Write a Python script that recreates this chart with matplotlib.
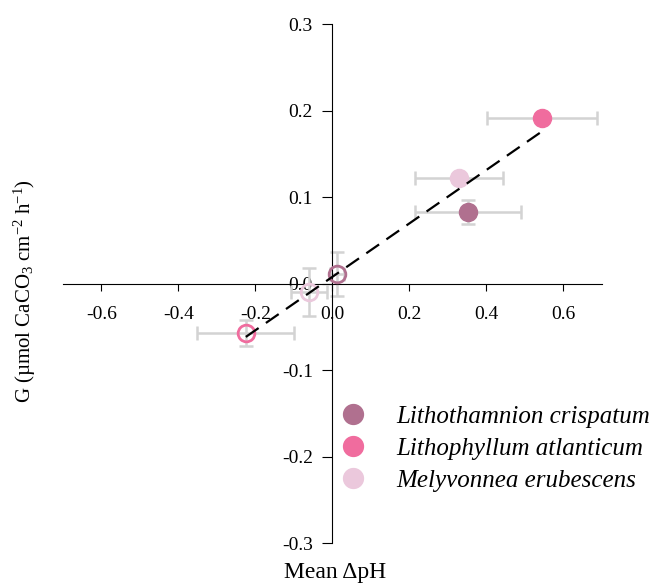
import numpy as np
import matplotlib
matplotlib.use("Agg")
import matplotlib.pyplot as plt

plt.rcParams['font.family'] = ['Liberation Serif', 'DejaVu Serif']
plt.rcParams['mathtext.fontset'] = 'custom'
plt.rcParams['mathtext.rm'] = 'Liberation Serif'
plt.rcParams['mathtext.it'] = 'Liberation Serif:italic'

# species and colours
species = ["Lithothamnion crispatum", "Lithophyllum atlanticum", "Melyvonnea erubescens"]
colors = ["#B0708F", "#F06C9E", "#EBC8DC"]

# filled points (one per species)
filled_x = [0.352, 0.544, 0.329]
filled_y = [0.083, 0.192, 0.122]
filled_xerr = [0.138, 0.143, 0.114]
filled_yerr = [0.014, 0.005, 0.005]

# open points (one per species)
open_x = [0.012, -0.225, -0.06]
open_y = [0.011, -0.057, -0.010]
open_xerr = [0.018, 0.126, 0.047]
open_yerr = [0.025, 0.015, 0.028]

xticks = [-0.6, -0.4, -0.2, 0.0, 0.2, 0.4, 0.6]
yticks = [-0.3, -0.2, -0.1, 0.0, 0.1, 0.2, 0.3]

fig = plt.figure(figsize=(6.54, 5.83), dpi=100)
ax = fig.add_axes([0.0963, 0.0686, 0.824, 0.890])

err_color = "#D3D3D3"
for i in range(3):
    ax.errorbar(open_x[i], open_y[i], xerr=open_xerr[i], yerr=open_yerr[i],
                fmt='none', ecolor=err_color, elinewidth=1.8, capsize=5, capthick=1.8, zorder=2)
    ax.errorbar(filled_x[i], filled_y[i], xerr=filled_xerr[i], yerr=filled_yerr[i],
                fmt='none', ecolor=err_color, elinewidth=1.8, capsize=5, capthick=1.8, zorder=2)

# regression line through all points
all_x = np.array(filled_x + open_x)
all_y = np.array(filled_y + open_y)
slope, intercept = np.polyfit(all_x, all_y, 1)
line_x = np.array([all_x.min(), all_x.max()])
ax.plot(line_x, slope * line_x + intercept, color='black', linestyle=(0, (7, 4)), lw=1.6, zorder=4)

for i in range(3):
    ax.plot(open_x[i], open_y[i], 'o', ms=12, mfc='none', mec=colors[i], mew=2, zorder=3)
    ax.plot(filled_x[i], filled_y[i], 'o', ms=13, color=colors[i], zorder=3, label=species[i])

ax.set_xlim(-0.7, 0.7)
ax.set_ylim(-0.3, 0.3)
ax.spines['left'].set_position(('data', 0))
ax.spines['bottom'].set_position(('data', 0))
ax.spines['right'].set_visible(False)
ax.spines['top'].set_visible(False)
ax.set_xticks(xticks)
ax.set_yticks(yticks)
ax.set_xticklabels([f"{t:.1f}" for t in xticks])
ax.set_yticklabels([f"{t:.1f}" for t in yticks])
ax.tick_params(axis='x', direction='out', length=5, pad=11, labelsize=14)
ax.tick_params(axis='y', direction='out', length=7, pad=7, labelsize=14)

fig.text(0.038, 0.5, "G (\u00b5mol CaCO$_3$ cm$^{-2}$ h$^{-1}$)", rotation=90,
         ha='center', va='center', fontsize=15)
fig.text(0.513, 0.018, "Mean \u0394pH", ha='center', va='center', fontsize=17)

leg = ax.legend(loc='upper left', bbox_to_anchor=(0.468, 0.309), frameon=False,
                prop={'style': 'italic', 'size': 18}, handletextpad=1.16,
                labelspacing=0.38, markerscale=1.1, handlelength=1.2)

fig.savefig("out.png", dpi=100)
